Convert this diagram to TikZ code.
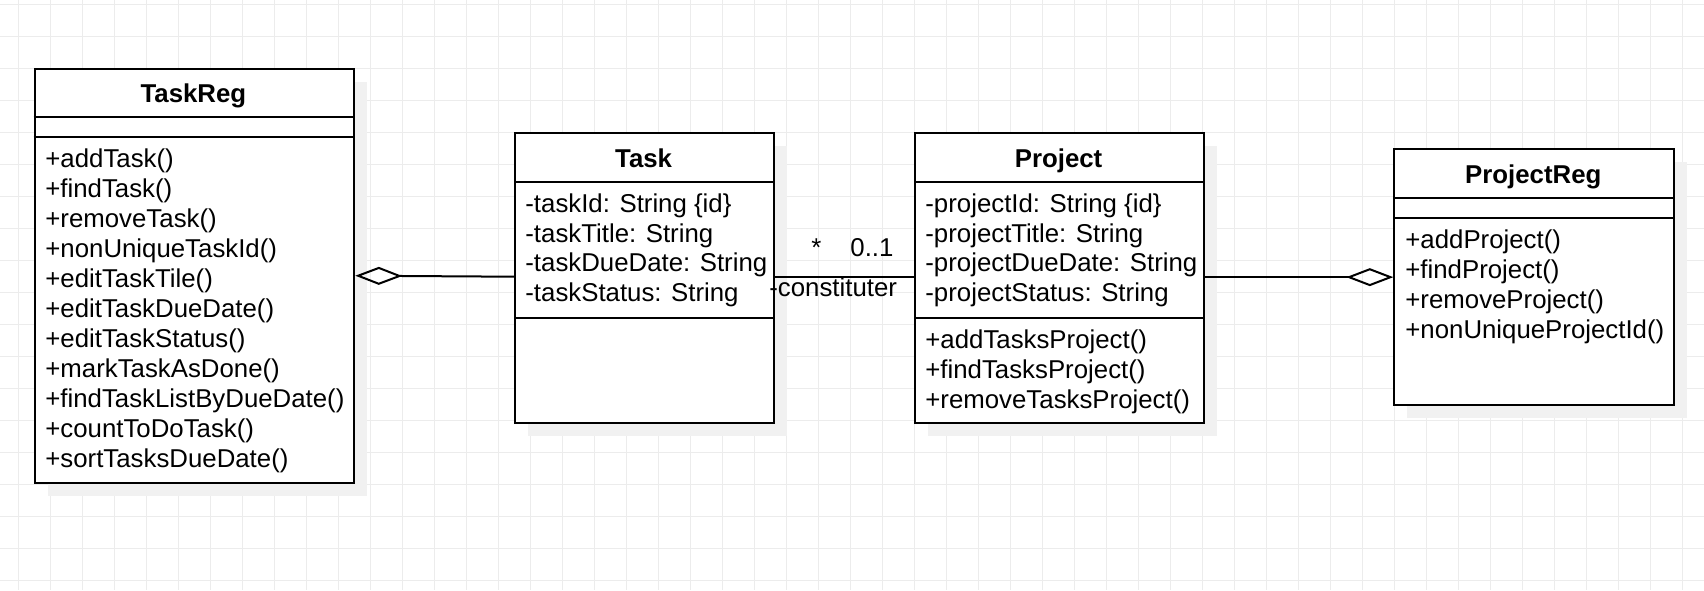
\documentclass[tikz,border=0pt]{standalone}
\usepackage{fontspec}
\setmainfont{Liberation Sans}
\usetikzlibrary{arrows.meta}
\definecolor{gridc}{RGB}{236,236,236}
\definecolor{shadowc}{RGB}{241,241,241}
\begin{document}
\begin{tikzpicture}[x=0.5pt,y=-0.5pt,
  gridline/.style={draw=gridc, line width=0.5pt},
  txt/.style={inner sep=0pt, anchor=base west, font=\fontsize{12.9}{15}\selectfont},
  ttl/.style={inner sep=0pt, anchor=base, font=\fontsize{12.9}{15}\selectfont\bfseries},
  classbox/.style={draw=black, line width=1pt, fill=white, inner sep=0pt, anchor=north west},
  sepline/.style={line width=1pt},
  shade/.style={fill=shadowc, draw=none},
  aggr/.style={line width=1pt, -{Diamond[open,length=23.5pt,width=9pt]}},
  assoc/.style={line width=1pt},
  lbl/.style={inner sep=0pt, anchor=base west, font=\fontsize{12.9}{15}\selectfont}
]
\useasboundingbox[fill=white] (0,0) rectangle (1704,590);
% grid
\foreach \k in {0,...,52} \draw[gridline] (18.5+32*\k,0) -- (18.5+32*\k,590);
\foreach \k in {0,...,18} \draw[gridline] (0,4.3+32*\k) -- (1704,4.3+32*\k);
% shadows
\fill[shade] (47.5,81.7) rectangle (367.3,495.7);
\fill[shade] (528,146) rectangle (787.3,436);
\fill[shade] (928,146) rectangle (1217.3,436);
\fill[shade] (1407.3,162.3) rectangle (1687.3,418);
% boxes
\node[classbox, minimum width=159.9pt, minimum height=207pt] (TaskReg) at (33.5,67.7) {};
\node[classbox, minimum width=129.65pt, minimum height=145pt] (Task) at (514,132) {};
\node[classbox, minimum width=144.65pt, minimum height=145pt] (Project) at (914,132) {};
\node[classbox, minimum width=140pt, minimum height=127.85pt] (ProjectReg) at (1393.3,148.3) {};
% separators
\draw[sepline] (33.5,117.3) -- (353.3,117.3);
\draw[sepline] (33.5,137.3) -- (353.3,137.3);
\draw[sepline] (514,181.7) -- (773.3,181.7);
\draw[sepline] (514,317.7) -- (773.3,317.7);
\draw[sepline] (914,181.7) -- (1203.3,181.7);
\draw[sepline] (914,317.7) -- (1203.3,317.7);
\draw[sepline] (1393.3,198.3) -- (1673.3,198.3);
\draw[sepline] (1393.3,218.3) -- (1673.3,218.3);
% titles
\node[ttl] (TaskRegTitle) at (193.4,102.7) {TaskReg};
\node[ttl] (TaskTitle) at (643.6,167) {Task};
\node[ttl] (ProjectTitle) at (1058.6,167) {Project};
\node[ttl] (ProjectRegTitle) at (1533.3,183.3) {ProjectReg};
% members
\foreach \t [count=\i from 0] in {+addTask(),+findTask(),+removeTask(),+nonUniqueTaskId(),+editTaskTile(),+editTaskDueDate(),+editTaskStatus(),+markTaskAsDone(),+findTaskListByDueDate(),+countToDoTask(),+sortTasksDueDate()}
  \node[txt] (trm\i) at (45,167.8+30*\i) {\t};
\foreach \t [count=\i from 0] in {{-taskId: String \{id\}},{-taskTitle: String},{-taskDueDate: String},{-taskStatus: String}}
  \node[txt] (ta\i) at (525,212.2+29.8*\i) {\t};
\foreach \t [count=\i from 0] in {{-projectId: String \{id\}},{-projectTitle: String},{-projectDueDate: String},{-projectStatus: String}}
  \node[txt] (pa\i) at (925,212.2+29.8*\i) {\t};
\foreach \t [count=\i from 0] in {+addTasksProject(),+findTasksProject(),+removeTasksProject()}
  \node[txt] (pm\i) at (925,348.3+30*\i) {\t};
\foreach \t [count=\i from 0] in {+addProject(),+findProject(),+removeProject(),+nonUniqueProjectId()}
  \node[txt] (prm\i) at (1405,248.3+30*\i) {\t};
% connectors
\draw[aggr] ([yshift=0.65pt]Task.west) -- (TaskReg.east);
\draw[assoc] ([yshift=0.65pt]Task.east) -- ([yshift=0.65pt]Project.west);
\draw[aggr] (Project.east |- ProjectReg.west) -- (ProjectReg.west);
% association labels
\node[lbl] (star) at (811,256.7) {*};
\node[lbl] (mult) at (850,256.7) {0..1};
\node[lbl] (role) at (769,296) {-constituter};
\end{tikzpicture}
\end{document}
